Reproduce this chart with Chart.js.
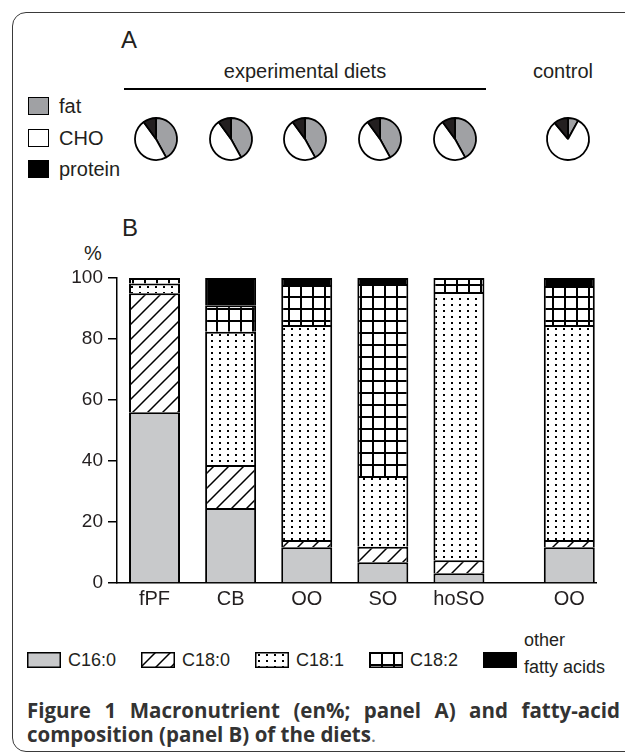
<!DOCTYPE html>
<html>
<head>
<meta charset="utf-8">
<script src="https://cdn.jsdelivr.net/npm/chart.js@4.4.0/dist/chart.umd.min.js"></script>
<style>
  body { margin:0; background:#fff; width:625px; height:755px; overflow:hidden; position:relative;
         font-family:"Liberation Sans", Arial, sans-serif; color:#231f20; }
  #frame { position:absolute; left:12px; top:12px; width:660px; height:740px;
           border:1.5px solid #3a3a3a; border-radius:14px; box-sizing:border-box; }
  .t { position:absolute; white-space:nowrap; font-size:20px; line-height:20px; }
  .box { position:absolute; border:1.5px solid #000; box-sizing:border-box; }
  canvas.pie { position:absolute; }
  #bars { position:absolute; left:0; top:200px; }
  .cap { position:absolute; left:27px; font-family:"Open Sans", sans-serif; font-weight:700;
         font-size:20.5px; line-height:24px; color:#333; white-space:nowrap; }
  #cap1 { width:593px; text-align:justify; text-align-last:justify; white-space:normal; }
</style>
</head>
<body>
<div id="frame"></div>

<!-- panel A -->
<div class="t" style="left:121px; top:28px; font-size:24px; line-height:24px;">A</div>
<div class="t" style="left:205px; width:200px; top:61px; text-align:center;">experimental diets</div>
<div style="position:absolute; left:124px; top:88px; width:362px; height:2px; background:#000;"></div>
<div class="t" style="left:513px; width:100px; top:61px; text-align:center;">control</div>

<div class="box" style="left:28px; top:97px; width:21px; height:18px; background:#a0a1a4;"></div>
<div class="t" style="left:59px; top:96px;">fat</div>
<div class="box" style="left:28px; top:129px; width:21px; height:18px; background:#fff;"></div>
<div class="t" style="left:59px; top:128px;">CHO</div>
<div class="box" style="left:28px; top:160px; width:21px; height:18px; background:#000;"></div>
<div class="t" style="left:59px; top:159px;">protein</div>

<!-- panel B -->
<div class="t" style="left:122px; top:216px; font-size:24px; line-height:24px;">B</div>
<div class="t" style="left:84px; top:243px;">%</div>
<canvas id="bars" width="625" height="420"></canvas>

<div id="legend"></div>

<div class="cap" id="cap1" style="top:698px;">Figure 1 Macronutrient (en%; panel A) and fatty-acid</div>
<div class="cap" style="top:722px;">composition (panel B) of the diets<span style="font-weight:400; color:#777;">.</span></div>

<script>
// panel A: macronutrient split (en%)
const macroLabels = ['fat', 'CHO', 'protein'];
const pieFat = [42, 42, 42, 42, 42, 8];
const pieCHO = [48, 48, 48, 48, 48, 81];
const pieProtein = [10, 10, 10, 10, 10, 11];

// panel B: fatty acid composition (%)
const dietLabels = ['fPF', 'CB', 'OO', 'SO', 'hoSO', 'OO'];
const c160 = [56, 24.6, 11.7, 6.8, 3.2, 11.7];
const c180 = [39, 14.1, 2.4, 5.1, 4.3, 2.4];
const c181 = [3.2, 43.7, 70.5, 23.2, 87.9, 70.5];
const c182 = [1.8, 8.7, 13.1, 62.9, 4.6, 12.8];
const otherFA = [0, 8.9, 2.3, 2.0, 0, 2.6];
const yTicks = [0, 20, 40, 60, 80, 100];

// control diet sits a bit apart from the experimental ones
const controlGap = 0.45;
const xPos = dietLabels.map((d, i) => i + (i === dietLabels.length - 1 ? controlGap : 0));

const font = 'Liberation Sans';
const ink = '#231f20';

function makePattern(kind) {
    const c = document.createElement('canvas');
    const g = c.getContext('2d');
    if (kind === 'hatch') {
        const s = 15;
        c.width = c.height = s;
        g.fillStyle = '#fff';
        g.fillRect(0, 0, s, s);
        g.strokeStyle = '#000';
        g.lineWidth = 1.5;
        g.beginPath();
        g.moveTo(-1, s + 1); g.lineTo(s + 1, -1);
        g.moveTo(-2, 2); g.lineTo(2, -2);
        g.moveTo(s - 2, s + 2); g.lineTo(s + 2, s - 2);
        g.stroke();
    } else if (kind === 'dots') {
        c.width = 8; c.height = 6;
        g.fillStyle = '#fff';
        g.fillRect(0, 0, 8, 6);
        g.fillStyle = '#000';
        g.fillRect(3, 2, 2, 2);
    } else if (kind === 'grid') {
        c.width = c.height = 12;
        g.fillStyle = '#fff';
        g.fillRect(0, 0, 12, 12);
        g.fillStyle = '#000';
        g.fillRect(0, 0, 12, 2);
        g.fillRect(0, 0, 2, 12);
    }
    return document.createElement('canvas').getContext('2d').createPattern(c, 'repeat');
}

const fills = {
    c160: '#c8c9cb',
    c180: makePattern('hatch'),
    c181: makePattern('dots'),
    c182: makePattern('grid'),
    other: '#000'
};

const series = [
    { label: 'C16:0', values: c160, fill: fills.c160 },
    { label: 'C18:0', values: c180, fill: fills.c180 },
    { label: 'C18:1', values: c181, fill: fills.c181 },
    { label: 'C18:2', values: c182, fill: fills.c182 },
    { label: 'other fatty acids', values: otherFA, fill: fills.other }
];

new Chart(document.getElementById('bars'), {
    type: 'bar',
    data: {
        datasets: series.map(s => ({
            label: s.label,
            data: s.values.map((v, i) => ({ x: xPos[i], y: v })),
            backgroundColor: s.fill,
            borderColor: '#000',
            borderWidth: 2,
            borderSkipped: 'start'
        }))
    },
    options: {
        responsive: false,
        animation: false,
        events: [],
        layout: { padding: { top: 78, right: 29, left: 0, bottom: 0 } },
        plugins: { legend: { display: false }, tooltip: { enabled: false } },
        datasets: { bar: { barPercentage: 0.67, categoryPercentage: 1 } },
        scales: {
            x: {
                type: 'linear',
                offset: false,
                stacked: true,
                min: -0.493,
                max: 5.801,
                z: 1,
                afterBuildTicks: s => { s.ticks = xPos.map(v => ({ value: v })); },
                afterFit: s => { s.height = 37; },
                ticks: {
                    autoSkip: false, maxRotation: 0, padding: 4, color: ink,
                    font: { family: font, size: 20 },
                    callback: (v, i) => dietLabels[i]
                },
                grid: { display: false, drawTicks: false, offset: false },
                border: { color: '#000', width: 1.5 }
            },
            y: {
                stacked: true,
                min: 0,
                max: 100,
                afterBuildTicks: s => { s.ticks = yTicks.map(v => ({ value: v })); },
                afterFit: s => { s.width = 117; },
                ticks: { padding: 5, color: ink, font: { family: font, size: 19 } },
                grid: { drawOnChartArea: false, color: '#000', lineWidth: 1.5, tickLength: 9 },
                border: { color: '#000', width: 1.5 }
            }
        }
    }
});

// panel A pies
const pieCenters = [155.5, 230.5, 305, 380, 454.5, 568];
pieCenters.forEach((cx, i) => {
    const cv = document.createElement('canvas');
    cv.className = 'pie';
    cv.width = 50; cv.height = 50;
    cv.style.left = (cx - 25) + 'px';
    cv.style.top = (139 - 25) + 'px';
    document.body.appendChild(cv);
    new Chart(cv, {
        type: 'pie',
        data: {
            labels: macroLabels,
            datasets: [{
                data: [pieFat[i], pieCHO[i], pieProtein[i]],
                backgroundColor: ['#a0a1a4', '#fff', '#231f20'],
                borderColor: '#000',
                borderWidth: 1.8
            }]
        },
        options: {
            responsive: false,
            animation: false,
            events: [],
            radius: 21,
            plugins: { legend: { display: false }, tooltip: { enabled: false } }
        }
    });
});

// bottom legend with the same fills
const legend = document.getElementById('legend');
series.forEach((s, i) => {
    const left = 27 + i * 114;
    const sw = document.createElement('canvas');
    sw.width = 34; sw.height = 16;
    sw.style.cssText = `position:absolute; left:${left}px; top:652px;`;
    const g = sw.getContext('2d');
    g.fillStyle = s.fill;
    g.fillRect(0, 0, 34, 16);
    g.strokeStyle = '#000';
    g.lineWidth = 1.5;
    g.strokeRect(0.75, 0.75, 32.5, 14.5);
    legend.appendChild(sw);
    const words = s.label === 'other fatty acids' ? ['other', 'fatty acids'] : [s.label];
    words.forEach((w, k) => {
        const t = document.createElement('div');
        t.className = 't';
        t.style.fontSize = '18px';
        t.style.lineHeight = '18px';
        t.style.left = (left + 41) + 'px';
        const cy = words.length === 1 ? 660 : (k === 0 ? 640 : 667);
        t.style.top = (cy - 9) + 'px';
        t.textContent = w;
        legend.appendChild(t);
    });
});
</script>
</body>
</html>
